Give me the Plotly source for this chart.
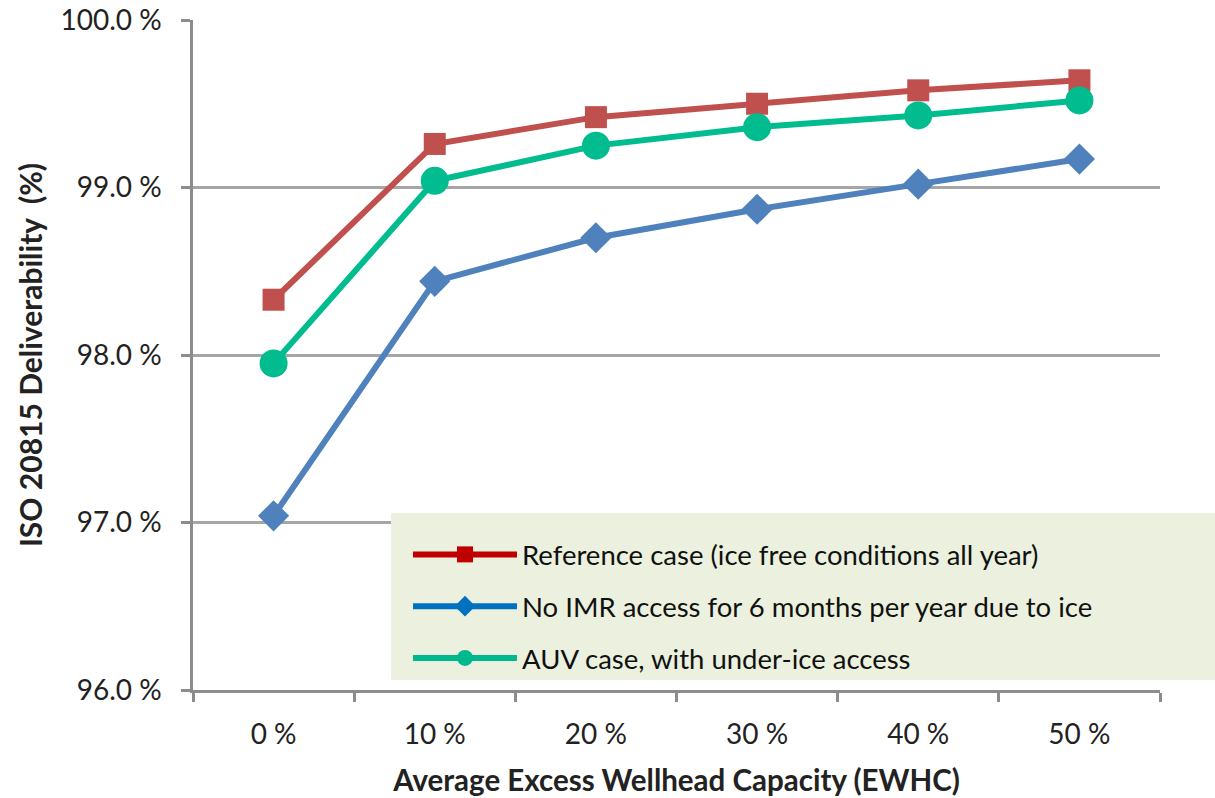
import plotly.graph_objects as go

categories = ["0 %", "10 %", "20 %", "30 %", "40 %", "50 %"]
reference_case = [98.33, 99.26, 99.42, 99.50, 99.58, 99.64]
no_imr_access = [97.04, 98.44, 98.70, 98.87, 99.02, 99.17]
auv_case = [97.95, 99.04, 99.25, 99.36, 99.43, 99.52]

names = [
    "Reference case (ice free conditions all year)",
    "No IMR access for 6 months per year due to ice",
    "AUV case, with under-ice access",
]

FONT = "Lato, 'Open Sans', sans-serif"

L, T, PW, PH = 193, 20, 967, 670
W, H = 1215, 798

fig = go.Figure()

series = [
    (reference_case, "#C0504D", "square", 22, "#C00000", 26),
    (no_imr_access, "#4F81BD", "diamond", 24, "#0070C0", 30),
    (auv_case, "#00BC8E", "circle", 28, "#00B88E", 28),
]

for (vals, col, sym, sz, lcol, lsz), nm in zip(series, names):
    fig.add_trace(go.Scatter(
        x=categories, y=vals, mode="lines+markers", name=nm,
        line=dict(color=col, width=6),
        marker=dict(symbol=sym, size=sz, color=col),
        showlegend=False,
    ))

for i, ((vals, col, sym, sz, lcol, lsz), nm) in enumerate(zip(series, names)):
    fig.add_trace(go.Scatter(
        x=[None], y=[None], mode="lines+markers", name=nm,
        line=dict(color=lcol, width=6),
        marker=dict(symbol=sym, size=lsz, color=lcol),
        legendgroup=f"g{i}", showlegend=True,
    ))

def px_x(x):
    return (x - L) / PW

def px_y(y):
    return (T + PH - y) / PH

# legend background box extending beyond plot area
fig.add_shape(type="rect", xref="paper", yref="paper",
              x0=px_x(391), x1=px_x(1215),
              y0=px_y(680), y1=px_y(513),
              fillcolor="#EBF1DE", line=dict(width=0), layer="above")

fig.update_layout(
    width=W, height=H,
    margin=dict(l=L, r=W - L - PW, t=T, b=H - T - PH, autoexpand=False),
    paper_bgcolor="white", plot_bgcolor="white",
    font=dict(family=FONT, color="#222222"),
    legend=dict(
        x=px_x(408), y=px_y(530), xanchor="left", yanchor="top",
        bgcolor="rgba(0,0,0,0)", font=dict(size=27.5, color="#111111", family=FONT),
        tracegroupgap=13, itemsizing="trace", traceorder="grouped", itemwidth=104,
    ),
    xaxis=dict(
        type="category", showgrid=False, automargin=False,
        showline=True, linecolor="#8C8C8C", linewidth=2.5,
        ticks="outside", tickson="boundaries", ticklen=9, tickwidth=2.5, tickcolor="#8C8C8C",
        tickfont=dict(size=28, color="#222222", family=FONT),
        ticklabelstandoff=18,
        title=dict(text="<b>Average Excess Wellhead Capacity (EWHC)</b>",
                   font=dict(size=29.5, color="#222222", family=FONT), standoff=22),
        range=[-0.5, 5.5],
    ),
    yaxis=dict(
        range=[96, 100], dtick=1, tickformat=".1f", ticksuffix=" %", automargin=False,
        showgrid=True, gridcolor="#A6A6A6", gridwidth=2.5,
        showline=True, linecolor="#8C8C8C", linewidth=2.5,
        ticks="outside", ticklen=9, tickwidth=2.5, tickcolor="#8C8C8C",
        tickfont=dict(size=28, color="#222222", family=FONT),
        ticklabelstandoff=14, ticklabeloverflow="allow",
        title=dict(text="<b>ISO 20815 Deliverability  (%)</b>",
                   font=dict(size=30, color="#222222", family=FONT), standoff=9),
        zeroline=False,
    ),
)

fig.write_html("out.html", config={"displayModeBar": False},
               post_script="document.body.style.margin='0';")
